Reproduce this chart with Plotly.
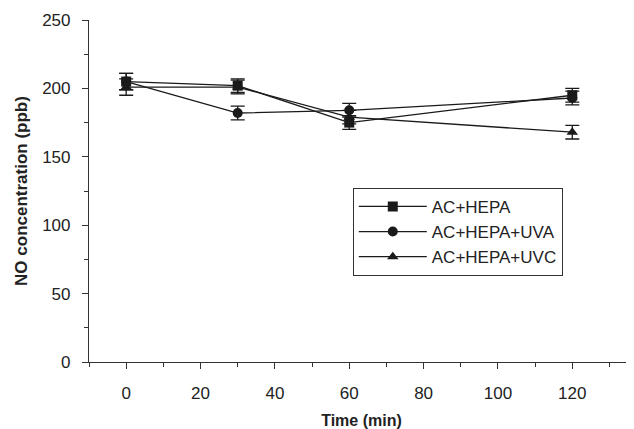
import plotly.graph_objects as go

time_min = [0, 30, 60, 120]
series_names = ["AC+HEPA", "AC+HEPA+UVA", "AC+HEPA+UVC"]
ac_hepa = [205, 202, 175, 195]
ac_hepa_uva = [205, 182, 184, 193]
ac_hepa_uvc = [201, 201, 179, 168]
err_hepa = [6, 5, 5, 5]
err_uva = [6, 5, 5, 5]
err_uvc = [6, 5, 5, 5]

symbols = ["square", "circle", "triangle-up"]
values = [ac_hepa, ac_hepa_uva, ac_hepa_uvc]
errs = [err_hepa, err_uva, err_uvc]

fig = go.Figure()
for name, vals, er, sym in zip(series_names, values, errs, symbols):
    fig.add_trace(go.Scatter(
        x=time_min, y=vals, name=name, mode="lines+markers",
        line=dict(color="#1a1a1a", width=1.3),
        marker=dict(symbol=sym, size=10, color="#1a1a1a"),
        error_y=dict(type="data", array=er, visible=True, color="#1a1a1a",
                     thickness=1.3, width=7),
    ))

fnt = "Liberation Sans, Arial, sans-serif"
fig.update_layout(
    width=626, height=421,
    margin=dict(l=81, r=0, t=12, b=67),
    paper_bgcolor="white", plot_bgcolor="white",
    font=dict(family=fnt, size=17, color="#222"),
    showlegend=True,
    legend=dict(x=0.484, y=0.509, xanchor="left", yanchor="top",
                bordercolor="#333", borderwidth=1, bgcolor="white",
                font=dict(size=17, family=fnt, color="#222"),
                itemwidth=68, tracegroupgap=3),
    xaxis=dict(range=[-10, 136.6], dtick=20, tick0=0,
               showline=True, linecolor="#333", linewidth=1.2,
               ticks="outside", ticklen=6, tickcolor="#333",
               ticklabelstandoff=9,
               minor=dict(dtick=10, tick0=0, ticks="outside", ticklen=4, tickcolor="#333"),
               showgrid=False, zeroline=False,
               title=dict(text="<b>Time (min)</b>", font=dict(size=16, family=fnt), standoff=15)),
    yaxis=dict(range=[0, 250], dtick=50,
               showline=True, linecolor="#333", linewidth=1.2,
               ticks="outside", ticklen=6, tickcolor="#333",
               ticklabelstandoff=8,
               minor=dict(dtick=25, ticks="outside", ticklen=4, tickcolor="#333"),
               showgrid=False, zeroline=False,
               title=dict(text="<b>NO concentration (ppb)</b>", font=dict(size=17, family=fnt), standoff=10)),
)
fig.write_html("out.html")
